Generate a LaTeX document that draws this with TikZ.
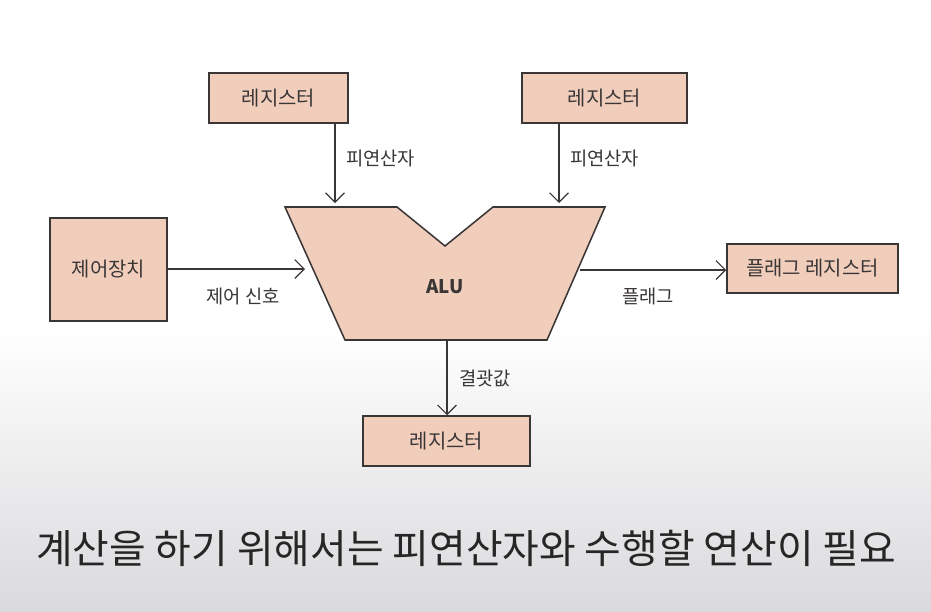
\documentclass[tikz,border=0pt]{standalone}
\usepackage{fontspec}
\setmainfont{Noto Sans CJK KR}
\usepackage{xcolor}
\usepackage{tikz}
\usetikzlibrary{positioning, arrows.meta, calc}
\definecolor{boxfill}{HTML}{F1CDBB}
\definecolor{inkgray}{HTML}{3A3636}
\definecolor{bggray}{HTML}{DADADD}

\tikzset{
  regbox/.style={draw=inkgray, fill=boxfill, line width=1.3pt,
                 minimum height=1.5cm, font=\fontsize{17}{19}\selectfont, text=inkgray},
  flow/.style={-{Straight Barb[length=8pt, width=16pt]}, draw=inkgray, line width=1pt},
  flowlabel/.style={font=\fontsize{16}{18}\selectfont, text=inkgray}
}

\begin{document}
\begin{tikzpicture}[x=0.03cm, y=-0.03cm]
    % background
    \fill[white] (0,0) rectangle (931,330);
    \shade[top color=white, bottom color=bggray] (0,330) rectangle (931,611);
    \useasboundingbox (0,0) rectangle (931,611);

    % ALU
    \coordinate (alutl) at (285,207);
    \coordinate (alutr) at (605,207);
    \draw[draw=inkgray, fill=boxfill, line width=1.3pt, line join=miter]
      (alutl) -- (397,207) -- (445,246) -- (493,207) -- (alutr)
      -- (547,340) -- (345,340) -- cycle;
    \node[font=\fontsize{16}{18}\selectfont\bfseries, text=inkgray] (alu) at (445,287) {ALU};
    \coordinate (aluinl) at (305,269);
    \coordinate (aluinr) at (335,203);
    \coordinate (aluinrr) at (559,203);
    \coordinate (aluflag) at (580,270);
    \coordinate (aluout) at (447,340);

    % registers
    \node[regbox, minimum width=4.17cm] (regleft) at (278.5,98) {레지스터};
    \node[regbox, minimum width=4.95cm] (regright) at (604.5,98) {레지스터};
    \node[regbox, minimum width=3.51cm, minimum height=3.09cm] (ctrl) at (108.5,269.5) {제어장치};
    \node[regbox, minimum width=5.13cm, minimum height=1.47cm] (flagreg) at (812.5,268.5) {플래그 레지스터};
    \node[regbox, minimum width=5.01cm] (regout) at (446.5,441) {레지스터};

    % connectors
    \draw[flow] (regleft.south -| aluinr) -- (aluinr);
    \node[flowlabel, anchor=west] (oplabelA) at (342,158) {피연산자};
    \draw[flow] (regright.south -| aluinrr) -- (aluinrr);
    \node[flowlabel, anchor=west] (oplabelB) at (566,158) {피연산자};
    \draw[flow] (ctrl.east |- aluinl) -- (aluinl);
    \node[flowlabel] (ctrllabel) at (243,296) {제어 신호};
    \draw[flow] (aluflag) -- (flagreg.west |- aluflag);
    \node[flowlabel] (flaglabel) at (648,296) {플래그};
    \draw[flow] (aluout) -- (regout.north -| aluout);
    \node[flowlabel, anchor=west] (reslabel) at (455,378) {결괏값};

    % caption
    \node[font=\fontsize{34}{38}\selectfont, text=black!85] (caption) at (466,548)
      {계산을 하기 위해서는 피연산자와 수행할 연산이 필요};
  \end{tikzpicture}
\end{document}
